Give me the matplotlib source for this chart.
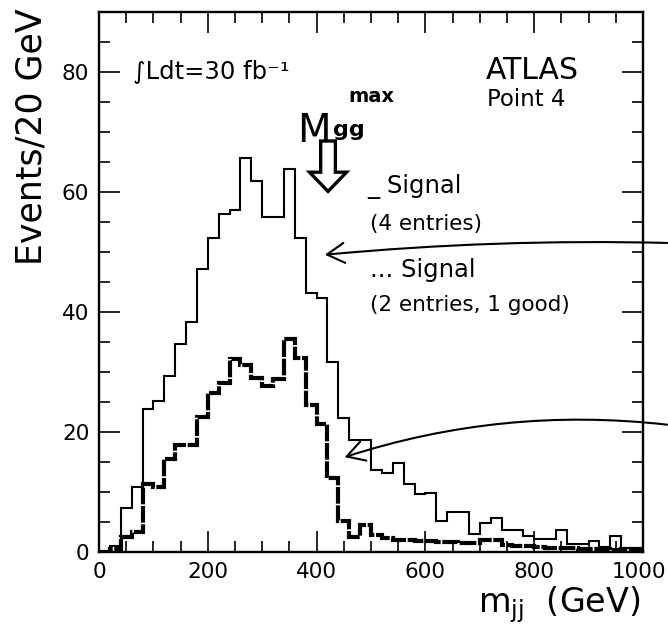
import numpy as np
import matplotlib
matplotlib.use("Agg")
import matplotlib.pyplot as plt
import matplotlib.transforms as mtrans
from matplotlib.ticker import MultipleLocator
from matplotlib.patches import FancyArrow

# ---- data (Events / 20 GeV) ----
bin_edges = np.arange(0, 1001, 20)
signal_4entries = [0, 1.0, 7.3, 10.9, 23.8, 25.1, 29.3, 34.6, 38.3, 47.2,
                   52.4, 56.4, 57.0, 65.6, 61.9, 55.9, 55.9, 63.8, 52.4, 43.2,
                   42.3, 31.7, 22.4, 18.6, 18.6, 13.6, 13.2, 14.8, 11.4, 9.6,
                   9.8, 5.1, 6.6, 6.6, 3.0, 4.9, 5.6, 3.7, 3.7, 2.6,
                   2.1, 2.1, 3.6, 1.3, 1.3, 1.8, 0.9, 2.6, 0.6, 0.6]
signal_2entries = [0, 0.5, 2.5, 3.3, 11.3, 10.8, 15.5, 17.8, 17.9, 22.5,
                   26.5, 28.1, 32.1, 31.2, 29.0, 27.6, 28.8, 35.5, 32.3, 24.5,
                   21.3, 12.3, 5.2, 2.5, 4.5, 2.8, 2.3, 2.0, 2.0, 1.8,
                   1.8, 1.7, 1.6, 1.5, 1.5, 2.0, 2.0, 1.2, 1.0, 1.0,
                   0.8, 0.7, 0.6, 0.6, 0.5, 0.5, 0.5, 0.4, 0.5, 0.5]
x_ticks = [0, 200, 400, 600, 800, 1000]
y_ticks = [0, 20, 40, 60, 80]

W, H = 668, 630
fig = plt.figure(figsize=(W / 100, H / 100), dpi=100)
ax = fig.add_axes([99 / W, 1 - 552 / H, (643 - 99) / W, (552 - 12) / H])

ax.stairs(signal_4entries, bin_edges, color="black", lw=1.5)
ax.stairs(signal_2entries, bin_edges, color="black", lw=3.0,
          linestyle=(0, (4, 0.4)))

ax.set_xlim(0, 1000)
ax.set_ylim(0, 90)
ax.set_xticks(x_ticks)
ax.set_yticks(y_ticks)
ax.xaxis.set_minor_locator(MultipleLocator(50))
ax.yaxis.set_minor_locator(MultipleLocator(5))
ax.tick_params(which="both", direction="in", top=True, right=True,
               width=1.2, labelsize=15.5)
ax.tick_params(which="major", length=15, pad=7)
ax.tick_params(which="minor", length=8)
for s in ax.spines.values():
    s.set_linewidth(1.7)
fig.canvas.draw()
last = ax.get_xticklabels()[-1]
last.set_transform(last.get_transform() +
                   mtrans.ScaledTranslation(-4 / 100, 0, fig.dpi_scale_trans))

# texts
ax.text(63, 80, "\u222BLdt=30 fb\u207B\u00B9", fontsize=17.5, va="center", ha="left")
ax.text(711, 80.3, "ATLAS", fontsize=21.5, va="center", ha="left")
ax.text(713, 75.5, "Point 4", fontsize=16.5, va="center", ha="left")
ax.text(494, 60.9, "_ Signal", fontsize=17.5, va="center", ha="left")
ax.text(499, 54.7, "(4 entries)", fontsize=15.5, va="center", ha="left")
ax.text(499, 47.0, "... Signal", fontsize=17.5, va="center", ha="left")
ax.text(499, 41.2, "(2 entries, 1 good)", fontsize=15.5, va="center", ha="left")

# hand-written M_gg^max
ax.text(365, 68.3, "M", fontsize=28, ha="left", va="baseline")
ax.text(430, 69.4, "gg", fontsize=16, fontweight="bold", ha="left", va="baseline")
ax.text(458, 75.0, "max", fontsize=14, fontweight="bold", ha="left", va="baseline")

arr = FancyArrow(421, 68.5, 0, -8.4, width=27, head_width=68, head_length=3.2,
                 length_includes_head=True, fc="white", ec="black", lw=2.4)
ax.add_patch(arr)

# hand-drawn arrows pointing at the curves
ax.annotate("", xy=(322, H - 255), xycoords="figure pixels",
            xytext=(670, H - 243), textcoords="figure pixels",
            arrowprops=dict(arrowstyle="->,head_length=0.7,head_width=0.4",
                            connectionstyle="arc3,rad=0.03", lw=1.5,
                            color="black", mutation_scale=18),
            annotation_clip=False)
ax.annotate("", xy=(342, H - 458), xycoords="figure pixels",
            xytext=(670, H - 425), textcoords="figure pixels",
            arrowprops=dict(arrowstyle="->,head_length=0.7,head_width=0.4",
                            connectionstyle="arc3,rad=0.11", lw=1.5,
                            color="black", mutation_scale=18),
            annotation_clip=False)

fig.text(32 / W, 1 - 137 / H, "Events/20 GeV", rotation=90, fontsize=25,
         ha="center", va="center")
fig.text(640 / W, 1 - 612 / H, r"m$_{\rm jj}$  (GeV)", fontsize=24,
         ha="right", va="baseline")

fig.savefig("out.png", dpi=100)
